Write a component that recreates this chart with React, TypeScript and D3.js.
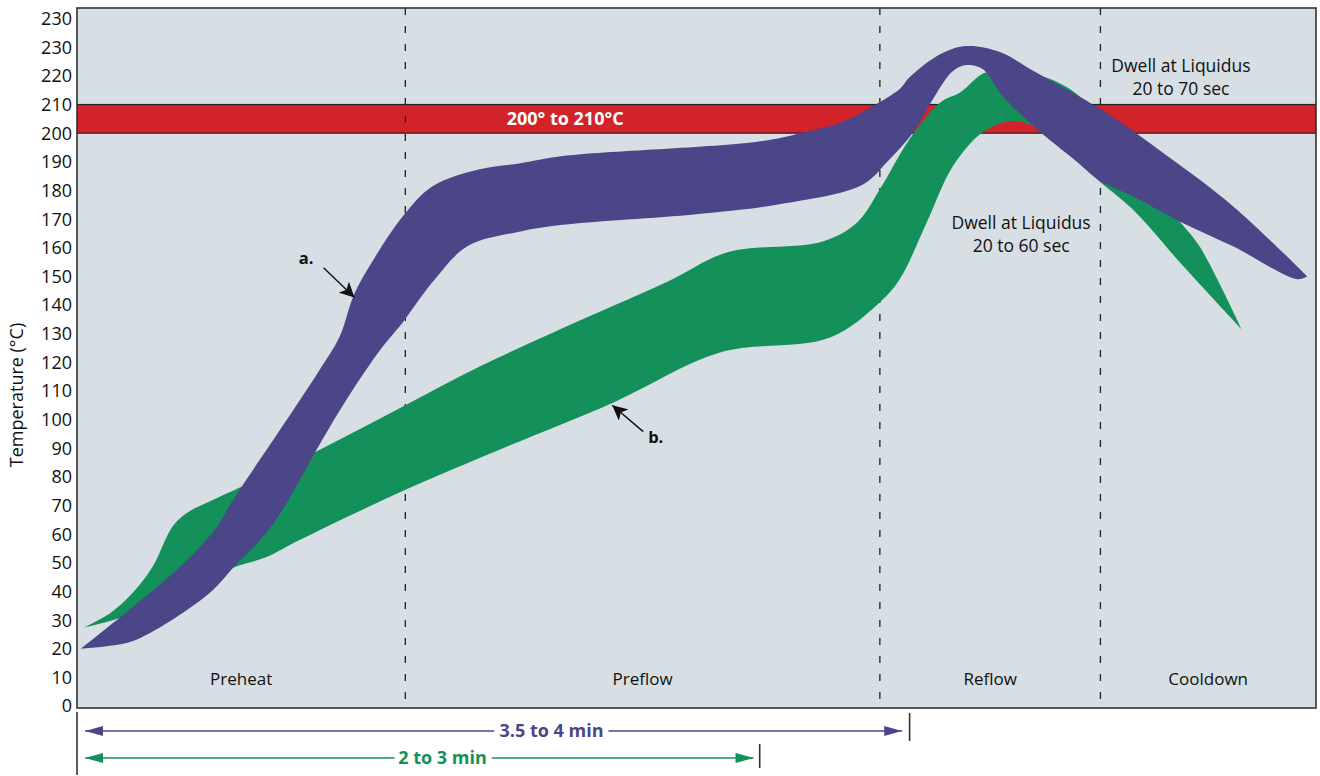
import { line, curveCatmullRom, scaleLinear, range } from 'd3'

type Pt = [number, number]

// x: share of the profile duration (0-100), y: temperature in °C
const yTicks = range(0, 250, 10)
const yTickLabels = ['0', '10', '20', '30', '40', '50', '60', '70', '80', '90', '100', '110', '120', '130', '140', '150', '160', '170', '180', '190', '200', '210', '220', '230', '230']

const phaseBounds = [0, 26.5, 64.8, 82.6, 100]
const phaseNames = ['Preheat', 'Preflow', 'Reflow', 'Cooldown']

const liquidusBand = [200, 210]

const profileAUpper: Pt[] = [
  [0.3, 20], [4.5, 34.6], [8.9, 51], [11.3, 62.6], [12.6, 72], [16.4, 96.5], [19.6, 117.5], [21.2, 129],
  [22.3, 143], [23.6, 153.5], [26.3, 171], [28.7, 181.5], [32.5, 187.4], [35.8, 189.5], [39.2, 192],
  [54.9, 197], [58.4, 200], [61.8, 204], [64.2, 209.4], [66.4, 215.4], [67.2, 219.5], [69.7, 227.6],
  [71.8, 230.4], [74.5, 228.3], [77.2, 221.7], [82.6, 208.4], [88, 192], [93.3, 174.5], [99.3, 150],
]
const profileALower: Pt[] = [
  [0.3, 20], [4, 22], [5.9, 25.5], [8.9, 33.6], [11, 40.6], [12.6, 48.3], [15.3, 60.5], [16.8, 70],
  [19.6, 91.5], [22, 108.7], [24.5, 124.5], [26.3, 134], [28.7, 148], [31.5, 160.5], [35.8, 165.7],
  [39.2, 168], [50, 171.7], [56.7, 175.2], [63.4, 182], [65.4, 190], [67.5, 200.3], [69.1, 212],
  [70.7, 221.7], [71.8, 223.8], [73.1, 222.4], [74.7, 213], [77.2, 202.4], [80.7, 190], [82.6, 183.2],
  [85.2, 178], [89, 169.2], [93.3, 160.5], [98.5, 149], [99.3, 150],
]

const profileBUpper: Pt[] = [
  [0.5, 27.3], [2.7, 32.5], [4.5, 39.5], [6.1, 48.6], [7.7, 62.6], [8.9, 67.5], [11, 72], [18, 86],
  [26.5, 105], [32.5, 118.5], [39, 131.5], [47.6, 148], [52.5, 158.4], [60.2, 162.2], [63, 169],
  [64.8, 180.4], [67.2, 198], [69.7, 210.8], [71.3, 214.3], [73.4, 221.3], [77.2, 220.6], [79.9, 216],
  [82.6, 205.6], [86, 185], [89, 169.2], [90.6, 160.5], [94, 131.5],
]
const profileBLower: Pt[] = [
  [0.5, 27.3], [3.5, 30.8], [8, 39], [12.6, 48.3], [15.3, 52], [18, 58], [26.5, 75.5], [34.1, 89.5],
  [43.3, 106], [51.9, 123.4], [60.8, 128.7], [64.8, 141], [66.4, 149], [68.6, 169], [70.7, 188.5],
  [73.1, 200.3], [75.3, 204.2], [77.2, 202.4], [82.6, 182.9], [85.2, 173.4], [89.3, 153.5], [94, 131.5],
]

const dwellNotes = [
  { t: 89.1, v: 221.5, lines: ['Dwell at Liquidus', '20 to 70 sec'] },
  { t: 76.2, v: 166.5, lines: ['Dwell at Liquidus', '20 to 60 sec'] },
]

const callouts = [
  { label: 'a.', text: [17.9, 154.3] as Pt, from: [19.9, 153] as Pt, to: [22.4, 142.6] as Pt },
  { label: 'b.', text: [46.1, 91.7] as Pt, from: [45.7, 95.8] as Pt, to: [43.2, 105] as Pt },
]

const spans = [
  { label: '3.5 to 4 min', start: 0.65, end: 66.6, stop: 67.2, mid: 38.3, color: '#4b4687', row: 0 },
  { label: '2 to 3 min', start: 0.65, end: 54.6, stop: 55.1, mid: 29.5, color: '#14915a', row: 1 },
]

const PURPLE = '#4b4687'
const GREEN = '#14915a'
const RED = '#d2232a'
const FONT = '"Open Sans", "Noto Sans", sans-serif'

export default function App() {
  const width = 1320
  const height = 776
  const margin = { left: 77, top: 8, right: 4, bottom: 68 }
  const plotBottom = height - margin.bottom
  const plotRight = width - margin.right

  const x = scaleLinear().domain([0, 100]).range([margin.left, plotRight])
  const y = scaleLinear().domain([-0.7, 243.7]).range([plotBottom, margin.top])

  const edge = line<Pt>()
    .x((d) => x(d[0]))
    .y((d) => y(d[1]))
    .curve(curveCatmullRom.alpha(0.5))

  const band = (upper: Pt[], lower: Pt[]) =>
    (edge(upper) ?? '') + (edge([...lower].reverse()) ?? '').replace(/^M/, 'L') + 'Z'

  return (
    <svg width={width} height={height} style={{ position: 'absolute', left: 0, top: 0 }} fontFamily={FONT}>
      <defs>
        <clipPath id="plot">
          <rect x={margin.left} y={margin.top} width={plotRight - margin.left} height={plotBottom - margin.top} />
        </clipPath>
        <marker id="tip" viewBox="0 0 10 10" refX="10" refY="5" markerWidth="15" markerHeight="15" markerUnits="userSpaceOnUse" orient="auto">
          <path d="M0,0L10,5L0,10L2.5,5Z" fill="#111" />
        </marker>
        {spans.map((s) => (
          <marker key={s.label} id={`span-${s.row}`} viewBox="0 0 18 10" refX="18" refY="5" markerWidth="18" markerHeight="10" markerUnits="userSpaceOnUse" orient="auto-start-reverse">
            <path d="M0,0L18,5L0,10Z" fill={s.color} />
          </marker>
        ))}
      </defs>

      <rect x={margin.left} y={margin.top} width={plotRight - margin.left} height={plotBottom - margin.top} fill="#d7dee4" />

      <g clipPath="url(#plot)">
        <rect
          x={margin.left}
          y={y(liquidusBand[1])}
          width={plotRight - margin.left}
          height={y(liquidusBand[0]) - y(liquidusBand[1])}
          fill={RED}
          stroke="#222"
          strokeWidth={1.2}
        />
        {phaseBounds.slice(1, -1).map((b) => (
          <line key={b} x1={x(b)} x2={x(b)} y1={margin.top} y2={plotBottom} stroke="#222" strokeWidth={1.3} strokeDasharray="7 11" />
        ))}
        <path d={band(profileBUpper, profileBLower)} fill={GREEN} />
        <path d={band(profileAUpper, profileALower)} fill={PURPLE} />
      </g>

      <text x={x(39.4)} y={y(203)} textAnchor="middle" fill="#fff" fontWeight="bold" fontSize={18}>
        200° to 210°C
      </text>

      {phaseNames.map((name, i) => (
        <text key={name} x={x((phaseBounds[i] + phaseBounds[i + 1]) / 2)} y={y(7.3)} textAnchor="middle" fontSize={17} fill="#111">
          {name}
        </text>
      ))}

      {dwellNotes.map((n) => (
        <text key={n.lines[1]} x={x(n.t)} y={y(n.v)} textAnchor="middle" fontSize={17.5} fill="#111">
          {n.lines.map((l, i) => (
            <tspan key={l} x={x(n.t)} dy={i === 0 ? 0 : 23}>
              {l}
            </tspan>
          ))}
        </text>
      ))}

      {callouts.map((c) => (
        <g key={c.label}>
          <line x1={x(c.from[0])} y1={y(c.from[1])} x2={x(c.to[0])} y2={y(c.to[1])} stroke="#111" strokeWidth={1.4} markerEnd="url(#tip)" />
          <text x={x(c.text[0])} y={y(c.text[1])} fontWeight="bold" fontSize={16.5} fill="#111">
            {c.label}
          </text>
        </g>
      ))}

      <rect x={margin.left} y={margin.top} width={plotRight - margin.left} height={plotBottom - margin.top} fill="none" stroke="#333" strokeWidth={1.6} />

      {yTicks.map((v, i) => (
        <text key={v} x={margin.left - 5} y={y(v)} dy="0.36em" textAnchor="end" fontSize={18} fill="#111">
          {yTickLabels[i]}
        </text>
      ))}
      <text transform={`translate(23,${(margin.top + plotBottom) / 2 + 37}) rotate(-90)`} textAnchor="middle" fontSize={18} fill="#111">
        Temperature (°C)
      </text>

      <line x1={margin.left} x2={margin.left} y1={plotBottom + 4} y2={height - 1} stroke="#333" strokeWidth={1.6} />
      {spans.map((s) => {
        const yy = plotBottom + 23 + s.row * 27
        return (
          <g key={s.label}>
            <line x1={x(s.start)} x2={x(s.end)} y1={yy} y2={yy} stroke={s.color} strokeWidth={1.6} markerStart={`url(#span-${s.row})`} markerEnd={`url(#span-${s.row})`} />
            <line x1={x(s.stop)} x2={x(s.stop)} y1={yy - 18 + s.row * 4} y2={yy + 10} stroke="#333" strokeWidth={1.6} />
            <text x={x(s.mid)} y={yy} dy="0.35em" textAnchor="middle" fontWeight="bold" fontSize={18} fill={s.color} stroke="#fff" strokeWidth={12} paintOrder="stroke">
              {s.label}
            </text>
          </g>
        )
      })}
    </svg>
  )
}
